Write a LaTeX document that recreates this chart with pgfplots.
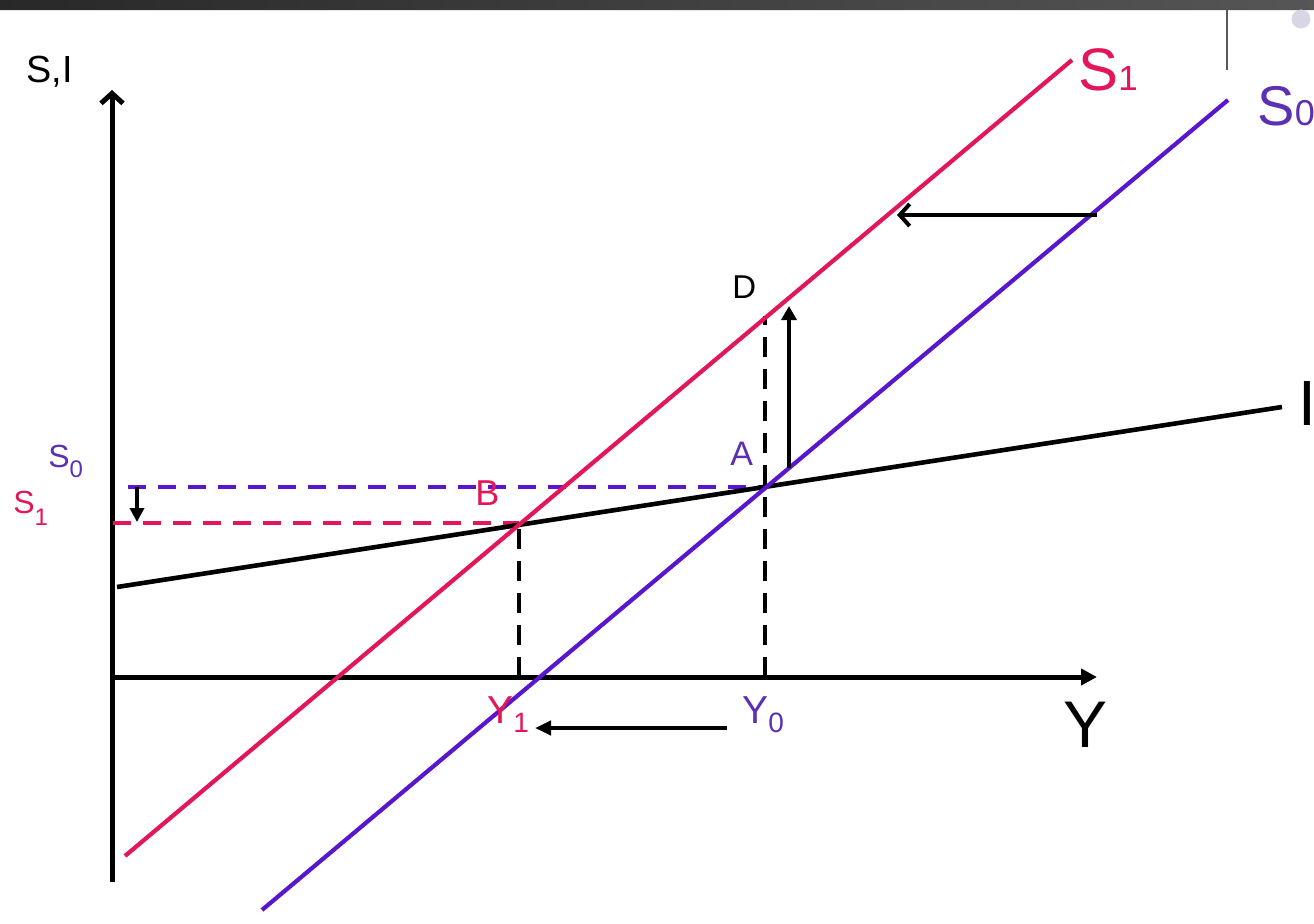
\documentclass[border=0pt]{standalone}
\usepackage{pgfplots}
\pgfplotsset{compat=1.18}
\usepackage{fontspec}
\setmainfont{Liberation Sans}
\usetikzlibrary{arrows.meta}

\definecolor{sone}{RGB}{226,22,88}
\definecolor{szero}{RGB}{88,22,205}
\definecolor{szerotxt}{RGB}{92,48,178}
\definecolor{barL}{RGB}{40,40,40}
\definecolor{barR}{RGB}{86,86,86}

% text of a given size, and a smaller lowered subscript
\newcommand{\fs}[2]{{\fontsize{#1}{#1}\selectfont #2}}
\newcommand{\sub}[3]{\raisebox{-#3}{\fontsize{#1}{#1}\selectfont #2}}

\begin{document}
\begin{tikzpicture}

\begin{axis}[%
width=657pt,
height=461.5pt,
at={(0,0)},
anchor=south west,
scale only axis,
xmin=0, xmax=1314,
ymin=0, ymax=923,
y dir=reverse,
hide axis,
clip=false
]
% window decoration
\addplot[draw=none, left color=barL, right color=barR] coordinates {(-5,-5) (1320,-5) (1320,10) (-5,10)} \closedcycle;
\addplot[gray!70!black, line width=1pt] coordinates {(1227,10) (1227,70)};
\addplot[only marks, mark=*, mark size=4.5pt, color={rgb,255:red,214;green,214;blue,228}] coordinates {(1301,19)};

% axes
\addplot[black, line width=2.5pt, -{Straight Barb[length=5pt,width=11pt]}] coordinates {(112,882) (112,90)};
\addplot[black, line width=2.5pt, -{Triangle[length=8pt,width=8pt]}] coordinates {(112,677) (1097,677)};

% guide lines
\addplot[szero, line width=2.4pt, dash pattern=on 9pt off 6pt] coordinates {(128,487) (766,487)};
\addplot[sone, line width=2.4pt, dash pattern=on 9pt off 6pt] coordinates {(113,523) (519,523)};
\addplot[black, line width=2.4pt, dash pattern=on 10pt off 6pt] coordinates {(519,677) (519,523)};
\addplot[black, line width=2.4pt, dash pattern=on 10pt off 6pt] coordinates {(765,677) (765,316)};

% saving and investment schedules
\addplot[black, line width=2.3pt] coordinates {(117,587) (1282,407)};
\addplot[sone, line width=2.1pt] coordinates {(125,856) (1072,60)};
\addplot[szero, line width=2.1pt] coordinates {(262,910) (1228,100)};

% shift arrows
\addplot[black, line width=1.8pt, -{Triangle[length=7pt,width=7pt]}] coordinates {(137,487) (137,522)};
\addplot[black, line width=2pt, -{Triangle[length=7pt,width=7.5pt]}] coordinates {(789,468) (789,306)};
\addplot[black, line width=2pt, -{Straight Barb[length=5pt,width=11pt]}] coordinates {(1097,215) (897,215)};
\addplot[black, line width=2pt, -{Triangle[length=8pt,width=7pt]}] coordinates {(727,728) (535,728)};

% labels
\node[anchor=base west, inner sep=0] at (26,82) {\fs{18.9pt}{S,I}};
\node[anchor=base west, inner sep=0, text=sone] at (1078,90) {\fs{30pt}{S}\sub{17.5pt}{1}{0pt}};
\node[anchor=base west, inner sep=0, text=szerotxt] at (1257,125) {\fs{28pt}{S}\sub{18pt}{0}{0pt}};
\node[anchor=base west, inner sep=0] at (1298,425) {\fs{32pt}{I}};
\node[anchor=base west, inner sep=0] at (1063,747) {\fs{33pt}{Y}};
\node[anchor=base west, inner sep=0, text=szerotxt] at (48,467) {\fs{16pt}{S}\sub{12pt}{0}{5pt}};
\node[anchor=base west, inner sep=0, text=sone] at (13,513) {\fs{16pt}{S}\sub{12pt}{1}{6pt}};
\node[anchor=base west, inner sep=0] at (732,298) {\fs{16.5pt}{D}};
\node[anchor=base west, inner sep=0, text=szerotxt] at (730,465) {\fs{17pt}{A}};
\node[anchor=base west, inner sep=0, text=sone] at (475,505) {\fs{18pt}{B}};
\node[anchor=base west, inner sep=0, text=sone] at (487,723) {\fs{19.5pt}{Y}\sub{14pt}{1}{4.5pt}};
\node[anchor=base west, inner sep=0, text=szerotxt] at (742,723) {\fs{19.5pt}{Y}\sub{14pt}{0}{4.5pt}};
\end{axis}

\pgfresetboundingbox
\path[use as bounding box] (0,0) rectangle (657pt,461.5pt);
\end{tikzpicture}
\end{document}
